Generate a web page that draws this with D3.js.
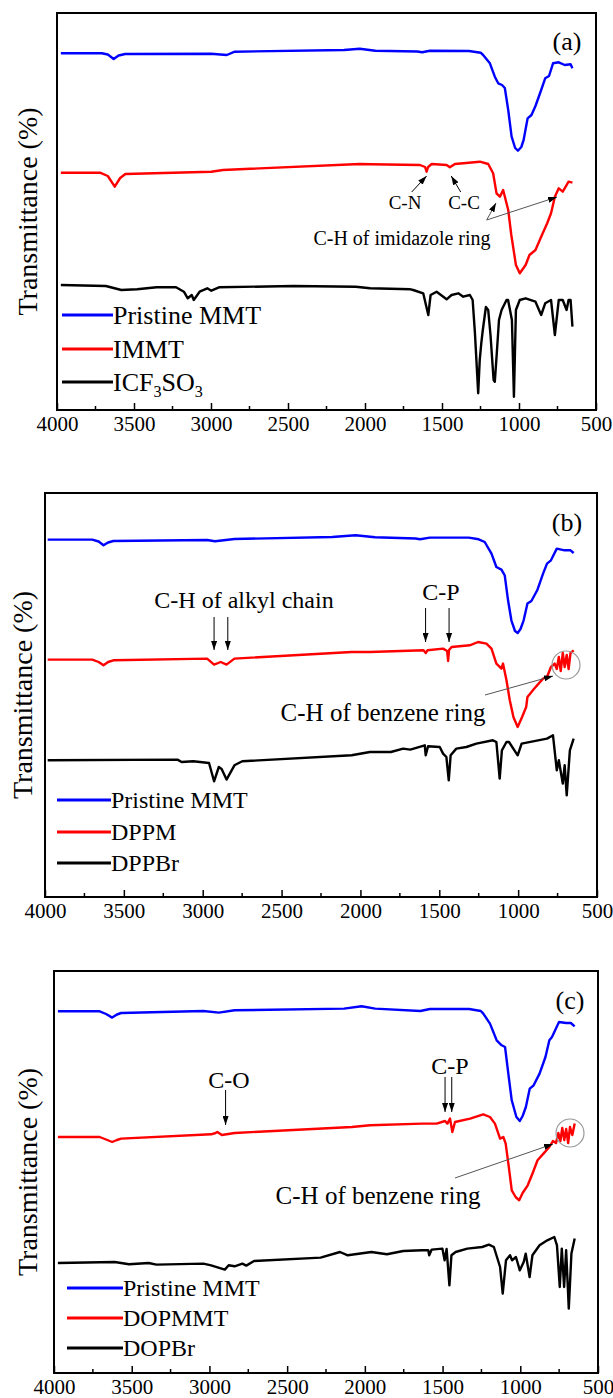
<!DOCTYPE html>
<html><head><meta charset="utf-8">
<script src="https://cdn.jsdelivr.net/npm/d3@7"></script>
<style>body{margin:0;background:#fff}svg{display:block}text{font-family:"Liberation Serif","Times New Roman",serif;fill:#000}</style>
</head><body><svg id="chart" width="613" height="1398"></svg>
<script>
// ---------- DATA (wavenumber cm-1, transmittance a.u.) ----------
const tickValues = [4000, 3500, 3000, 2500, 2000, 1500, 1000, 500];
const panelTags = ["(a)", "(b)", "(c)"];
const legendA = ["Pristine MMT", "IMMT", "ICF3SO3"];
const legendB = ["Pristine MMT", "DPPM", "DPPBr"];
const legendC = ["Pristine MMT", "DOPMMT", "DOPBr"];

const mmtA = [[3975,356.7],[3709,356.7],[3670,355.5],[3632,351],[3600,354.5],[3557,356],[2999,356.3],[2940,355.5],[2897,355],[2846,358.3],[2136,360],[2034,361.3],[1933,359.3],[1660,358.5],[1629,357.7],[1578,359.3],[1325,359],[1249,357.3],[1233,355],[1189,346.7],[1157,333.3],[1135,326.7],[1110,325],[1092,322],[1070,300],[1048,273.3],[1025,262],[1007,259.3],[985,263],[970,270],[944,291.7],[919,295],[893,304],[856,320],[830,331.7],[805,334],[779,346.7],[742,347.7],[703,345],[665,345.7],[653,341.7]];
const immtA = [[3975,237.3],[3721,237.3],[3670,234],[3625,223.3],[3590,232],[3556,236],[2998,238.3],[2922,240],[2034,246],[1967,245.7],[1643,245],[1610,243],[1600,238.3],[1590,243],[1567,246],[1470,245],[1449,242.7],[1416,246],[1254,248.3],[1200,246],[1168,236.7],[1146,216.7],[1124,213.3],[1103,220],[1081,206.7],[1070,200],[1050,175],[1020,145],[995,136.7],[957,145],[932,155],[893,160],[856,173.3],[817,186.7],[792,196.7],[767,213.3],[742,221.7],[716,218.3],[678,228.3],[653,227.3]];
const icfA = [[3975,125],[3683,124],[3582,120],[3480,120.7],[3353,122.7],[3227,122.7],[3176,118.3],[3151,111.7],[3125,115],[3112,110],[3074,118.3],[3024,121.7],[2998,119.3],[2948,122.7],[2466,124],[2060,123.3],[1967,121.7],[1705,120.7],[1687,120],[1622,116.7],[1589,95],[1574,115],[1535,118.3],[1470,110.7],[1438,115],[1394,116.7],[1362,113.3],[1319,115],[1301,110],[1286,76.7],[1265,16.7],[1255,50],[1245,66.7],[1235,80],[1215,103],[1200,100],[1185,75],[1165,30],[1157,28.3],[1145,55],[1130,90],[1113,100],[1081,110],[1071,110],[1046,90],[1033,13.3],[1020,100],[995,110],[957,111.7],[893,108.3],[856,95],[830,106.7],[792,110],[767,75],[742,110],[716,110],[691,100],[678,110],[665,110],[653,83.3]];

const mmtB = [[3983,357.4],[3700,357.4],[3660,355.5],[3629,351.7],[3600,354.5],[3567,356],[2972,357],[2923,355.7],[2880,356.5],[2799,358],[2179,360],[2031,361.7],[1907,359.7],[1650,358.5],[1622,357.7],[1560,359.4],[1313,359.4],[1250,357.7],[1212,355],[1169,343.4],[1138,330],[1106,327.4],[1085,321.7],[1064,296.7],[1043,276.7],[1020,266],[1003,264],[985,268],[965,276.7],[941,293.4],[916,296],[879,306.7],[842,323.4],[817,333.4],[792,336.7],[755,348.4],[705,346.7],[668,346.7],[648,344]];
const dppmB = [[3983,237.4],[3700,237.4],[3660,235],[3629,231.7],[3600,235],[3567,236.7],[2972,238.4],[2928,232.4],[2886,235],[2849,232.4],[2799,238.4],[2056,245],[1940,245],[1600,246.7],[1586,244],[1575,246.7],[1476,248.4],[1450,246],[1444,236],[1438,247],[1422,250],[1307,251.7],[1254,255],[1201,253.4],[1169,248.4],[1138,233.4],[1106,228.4],[1096,233.4],[1074,216.7],[1053,196.7],[1030,180],[1003,170],[975,180],[949,190],[941,200],[900,208],[842,218.4],[817,220],[792,230],[768,233.4],[755,228],[742,240],[730,226],[717,244],[705,230],[692,242],[680,228],[668,244],[648,246.7]];
const dppbrB = [[3983,136.7],[3160,137.4],[3134,135],[3060,135.7],[2960,134],[2928,115.7],[2898,130],[2880,128],[2849,117.4],[2799,131.7],[2749,135.7],[2056,141.7],[1940,145],[1807,145],[1729,148.4],[1684,147.4],[1592,151.7],[1586,141.7],[1571,150.7],[1497,150],[1476,143.4],[1455,140],[1440,116.7],[1428,141.7],[1392,148.4],[1328,150],[1265,153.4],[1160,156.7],[1138,155],[1117,118.4],[1103,146.7],[1074,155],[1058,155],[1003,141.7],[978,153.4],[817,158.4],[779,161.7],[755,126.7],[742,136.7],[717,113.4],[705,131.7],[692,101.7],[672,146.7],[648,158.4]];

const mmtC = [[3975,361.7],[3706,361.7],[3665,359],[3626,355.4],[3595,358.5],[3568,360],[3039,362],[2939,360.4],[2838,362.7],[2134,364.4],[2021,366.7],[1933,364.4],[1643,362],[1581,364],[1329,364],[1254,362],[1238,359.4],[1195,349.4],[1152,332.7],[1120,327.7],[1098,326],[1077,299.4],[1055,272.7],[1025,256],[1003,252],[985,257],[964,266],[939,284.4],[914,287.7],[876,299.4],[838,316],[813,332.7],[796,336],[751,351],[705,350],[675,350],[650,346.7]];
const dopmmtC = [[3975,236],[3706,236],[3665,233.5],[3626,231],[3595,233],[3568,234.4],[2989,238.7],[2960,240],[2949,241],[2920,238],[2889,238.7],[2838,240],[2084,246],[1967,247.7],[1631,249.4],[1538,249.4],[1484,252],[1469,249.4],[1452,254.4],[1437,241],[1420,251],[1323,254.4],[1238,258.7],[1195,256],[1163,249.4],[1130,234.4],[1109,236],[1094,229.4],[1071,202.7],[1055,182.7],[1030,176],[1007,172.7],[985,180],[952,187.7],[920,200],[889,212.7],[851,219.4],[813,226],[790,232],[770,230],[755,240],[742,232],[730,245],[717,233],[705,244],[692,230],[680,246],[665,238],[650,249.4]];
const dopbrC = [[3975,110],[3610,111],[3517,108.7],[3391,110],[3341,108.4],[3039,109.4],[2989,107.7],[2901,103.4],[2876,107.7],[2838,106.7],[2788,109.4],[2763,107.4],[2713,112],[2285,115.4],[2160,121],[2110,117.7],[1958,121],[1858,118.7],[1753,122],[1631,122.7],[1592,122.7],[1586,117.7],[1570,123.4],[1501,124.4],[1487,112.7],[1474,124],[1456,87.7],[1443,117.7],[1416,121],[1341,124.4],[1245,126],[1202,128.4],[1170,126],[1130,106],[1113,79.4],[1092,112.7],[1066,117.7],[1053,112.7],[1028,116],[1003,102.7],[978,111],[965,119.4],[940,96],[922,117.7],[876,127.7],[826,132.7],[781,136],[764,127.7],[746,86],[733,124.4],[718,86],[705,122.7],[688,64.4],[671,119.4],[650,134.4]];

// ---------- LAYOUT ----------
const colors = ["#0000ff", "#ff0000", "#000000"];
const panels = [
  {box:{left:57,right:596,top:13,bottom:410}, ylabX:27, tag:[567,41], series:[mmtA,immtA,icfA], names:legendA,
   legend:{x1:62,x2:113,ys:[315,349,382],size:26}},
  {box:{left:45,right:597,top:493,bottom:897}, ylabX:22, tag:[567,522], series:[mmtB,dppmB,dppbrB], names:legendB,
   legend:{x1:57,x2:111,ys:[800,832,863],size:24}},
  {box:{left:54,right:598,top:971,bottom:1373}, ylabX:27, tag:[570,1000], series:[mmtC,dopmmtC,dopbrC], names:legendC,
   legend:{x1:67,x2:123,ys:[1288,1318,1348],size:24}}
];

const svg = d3.select("#chart");
const defs = svg.append("defs");
defs.append("marker").attr("id","arr").attr("viewBox","0 0 10 10").attr("refX",10).attr("refY",5)
  .attr("markerWidth",9).attr("markerHeight",6).attr("markerUnits","userSpaceOnUse")
  .attr("orient","auto").attr("preserveAspectRatio","none")
  .append("path").attr("d","M0,0L10,5L0,10z").attr("fill","#000");

const scales = panels.map((p, i) => {
  const b = p.box;
  const x = d3.scaleLinear().domain([4000, 500]).range([b.left, b.right]);
  const y = d3.scaleLinear().domain([0, b.bottom - b.top]).range([b.bottom, b.top]);
  const g = svg.append("g");

  // curves
  const line = d3.line().x(d => x(d[0])).y(d => y(d[1])).curve(d3.curveLinear);
  p.series.forEach((s, k) => {
    g.append("path").datum(s).attr("d", line).attr("fill","none")
      .attr("stroke", colors[k]).attr("stroke-width", 2.4).attr("stroke-linejoin","round");
  });

  // frame
  g.append("rect").attr("x", b.left).attr("y", b.top).attr("width", b.right-b.left).attr("height", b.bottom-b.top)
    .attr("fill","none").attr("stroke","#000").attr("stroke-width",2);

  // ticks: major (labelled) + minor, pointing inward
  const axis = d3.axisBottom(x).tickValues(tickValues).tickSize(-7).tickPadding(6).tickFormat(d3.format("d"));
  const ag = g.append("g").attr("transform", `translate(0,${b.bottom})`).call(axis);
  ag.select(".domain").remove();
  ag.selectAll("line").attr("stroke","#000").attr("stroke-width",1.5);
  ag.selectAll("text").attr("font-size",21).attr("font-family",'"Liberation Serif",serif').attr("fill","#000");
  const minor = d3.range(3750, 500, -500);
  g.append("g").selectAll("line").data(minor).join("line")
    .attr("x1", d => x(d)).attr("x2", d => x(d)).attr("y1", b.bottom).attr("y2", b.bottom - 4)
    .attr("stroke","#000").attr("stroke-width",1.5);

  // y label
  const cy = (b.top + b.bottom) / 2;
  g.append("text").attr("transform", `translate(${p.ylabX},${cy}) rotate(-90)`)
    .attr("text-anchor","middle").attr("dy","0.35em").attr("font-size",28).text("Transmittance (%)");

  // panel tag
  g.append("text").attr("x", p.tag[0]).attr("y", p.tag[1]).attr("dy","0.35em").attr("text-anchor","middle")
    .attr("font-size",26).text(panelTags[i]);

  // legend
  const L = p.legend;
  p.names.forEach((n, k) => {
    g.append("line").attr("x1", L.x1).attr("x2", L.x2).attr("y1", L.ys[k]).attr("y2", L.ys[k])
      .attr("stroke", colors[k]).attr("stroke-width", 3);
    const t = g.append("text").attr("x", L.x2).attr("y", L.ys[k]).attr("dy","0.35em").attr("font-size", L.size);
    if (n === "ICF3SO3") {
      t.append("tspan").text("ICF");
      t.append("tspan").attr("font-size", L.size*0.62).attr("dy", 6).text("3");
      t.append("tspan").attr("dy", -6).text("SO");
      t.append("tspan").attr("font-size", L.size*0.62).attr("dy", 6).text("3");
    } else t.text(n);
  });
  return {x, y, g};
});

// ---------- ANNOTATIONS ----------
function label(g, txt, x, y, size) {
  g.append("text").attr("x", x).attr("y", y).attr("dy","0.35em").attr("text-anchor","middle").attr("font-size", size).text(txt);
}
function arrow(g, x1, y1, x2, y2, col) {
  g.append("line").attr("x1",x1).attr("y1",y1).attr("x2",x2).attr("y2",y2)
    .attr("stroke", col || "#000").attr("stroke-width", 1).attr("marker-end","url(#arr)");
}
// (a)
{
  const {x, g} = scales[0];
  label(g, "C-N", 405, 202, 19);
  label(g, "C-C", 464, 202, 19);
  label(g, "C-H of imidazole ring", 402, 238, 20);
  arrow(g, 411.7, 192, x(1600), 176);
  arrow(g, 460.7, 192, x(1440), 176);
  arrow(g, 486.7, 220, 496, 203, "#555");
  arrow(g, 486.7, 220, 557, 197, "#555");
}
// (b)
{
  const {x, g} = scales[1];
  label(g, "C-H of alkyl chain", 244, 600, 24);
  label(g, "C-P", 441, 592, 24);
  label(g, "C-H of benzene ring", 383, 712, 25);
  [2928, 2841].forEach(w => arrow(g, x(w), 617, x(w), 650));
  [1587, 1438].forEach(w => arrow(g, x(w), 608, x(w), 642));
  arrow(g, 485, 695, 553, 676, "#555");
  g.append("circle").attr("cx", 566).attr("cy", 665).attr("r", 14).attr("fill","none").attr("stroke","#999").attr("stroke-width",1.2);
}
// (c)
{
  const {x, g} = scales[2];
  label(g, "C-O", 229, 1080, 24);
  label(g, "C-P", 450, 1066, 24);
  label(g, "C-H of benzene ring", 378, 1195, 25);
  arrow(g, x(2896), 1090, x(2896), 1125);
  [1484, 1441].forEach(w => arrow(g, x(w), 1077, x(w), 1112));
  arrow(g, 455, 1178, 553, 1144, "#555");
  g.append("circle").attr("cx", 570).attr("cy", 1133).attr("r", 14).attr("fill","none").attr("stroke","#999").attr("stroke-width",1.2);
}
</script></body></html>
